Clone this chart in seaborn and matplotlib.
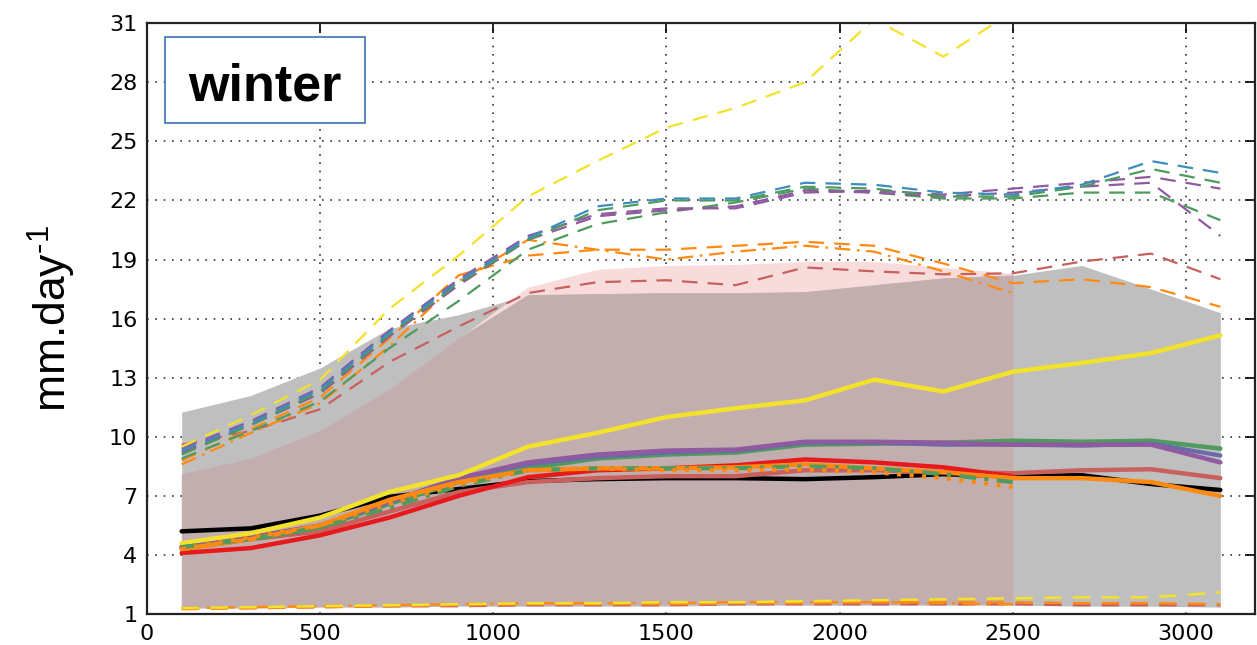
import numpy as np
import pandas as pd
import matplotlib
matplotlib.use("Agg")
import matplotlib.pyplot as plt
from matplotlib.patches import Rectangle
import seaborn as sns

# Altitude levels (x axis)
altitude = [100, 300, 500, 700, 900, 1100, 1300, 1500, 1700, 1900, 2100, 2300, 2500, 2700, 2900, 3100]
altitude_short = altitude[:13]  # series that stop at 2500

# Envelope bands
gray_upper = [11.25, 12.1, 13.5, 15.5, 16.2, 17.2, 17.25, 17.3, 17.3, 17.35, 17.7, 18.05, 18.2, 18.7, 17.5, 16.3]
gray_lower = [1.3, 1.3, 1.35, 1.35, 1.4, 1.4, 1.4, 1.4, 1.45, 1.45, 1.45, 1.45, 1.45, 1.4, 1.4, 1.35]
pink_upper = [8.1, 8.9, 10.3, 12.4, 15.0, 17.6, 18.5, 18.7, 18.75, 18.9, 18.9, 18.6, 18.3]
pink_lower = [1.35, 1.35, 1.4, 1.4, 1.45, 1.45, 1.45, 1.5, 1.5, 1.5, 1.5, 1.5, 1.5]

# Upper dashed series
yellow_hi = [9.5, 11.1, 12.9, 16.5, 19.2, 22.2, 24.0, 25.7, 26.7, 28.0, 31.2, 29.3, 31.6, 32.5, 33.5, 34.0]
blue_hi = [9.3, 10.7, 12.4, 15.3, 17.9, 20.1, 21.7, 22.1, 22.1, 22.9, 22.8, 22.4, 22.3, 22.8, 24.0, 23.4]
green_hi = [9.1, 10.6, 12.3, 15.2, 17.8, 20.0, 21.5, 22.0, 22.0, 22.7, 22.6, 22.2, 22.2, 22.7, 23.6, 22.9]
purple_hi = [9.4, 10.8, 12.5, 15.4, 18.0, 20.2, 21.3, 21.6, 21.6, 22.4, 22.5, 22.3, 22.6, 22.9, 23.2, 22.6]
green2_hi = [8.9, 10.3, 11.8, 14.5, 16.9, 19.5, 20.8, 21.4, 21.9, 22.6, 22.4, 22.1, 22.1, 22.4, 22.4, 21.0]
purple2_hi = [9.2, 10.6, 12.2, 15.1, 17.7, 20.0, 21.2, 21.5, 21.7, 22.5, 22.4, 22.2, 22.4, 22.7, 22.9, 20.2]
orange_hi = [8.8, 10.4, 12.0, 15.0, 18.2, 19.2, 19.5, 19.5, 19.7, 19.9, 19.7, 18.8, 17.8, 18.0, 17.6, 16.6]
orange_dd_hi = [8.6, 10.2, 11.7, 14.6, 17.9, 20.0, 19.5, 19.0, 19.4, 19.7, 19.4, 18.4, 17.3]
red_hi = [9.6, 10.3, 11.4, 13.8, 15.6, 17.3, 17.85, 17.95, 17.7, 18.6, 18.4, 18.25, 18.3, 18.9, 19.3, 18.0]

# Lower dashed series
yellow_lo = [1.3, 1.35, 1.4, 1.45, 1.5, 1.55, 1.55, 1.6, 1.6, 1.65, 1.7, 1.75, 1.8, 1.85, 1.85, 2.1]
orange_lo = [1.25, 1.3, 1.35, 1.4, 1.45, 1.5, 1.5, 1.5, 1.55, 1.55, 1.6, 1.6, 1.6, 1.55, 1.55, 1.5]
red_lo = [1.3, 1.3, 1.35, 1.4, 1.4, 1.45, 1.45, 1.45, 1.5, 1.5, 1.5, 1.5, 1.5, 1.45, 1.45, 1.45]
orange_dd_lo = [1.3, 1.35, 1.4, 1.45, 1.5, 1.55, 1.55, 1.55, 1.6, 1.6, 1.6, 1.55, 1.5]

# Solid (mean) series
black_mean = [5.2, 5.35, 6.0, 6.95, 7.35, 7.75, 7.85, 7.9, 7.9, 7.85, 7.95, 8.1, 8.0, 8.05, 7.6, 7.3]
indianred_mean = [4.4, 4.8, 5.2, 6.2, 7.2, 7.7, 7.9, 8.0, 8.0, 8.3, 8.3, 8.2, 8.15, 8.3, 8.35, 7.9]
red_mean = [4.1, 4.35, 5.0, 5.9, 7.0, 7.95, 8.3, 8.4, 8.55, 8.85, 8.7, 8.45, 8.0]
green_mean = [4.3, 4.8, 5.4, 6.6, 7.7, 8.4, 8.9, 9.1, 9.2, 9.6, 9.65, 9.7, 9.8, 9.75, 9.8, 9.4]
slate_mean = [4.4, 4.9, 5.5, 6.7, 7.9, 8.6, 9.0, 9.2, 9.3, 9.7, 9.7, 9.6, 9.6, 9.55, 9.65, 9.05]
purple_mean = [4.4, 4.9, 5.5, 6.7, 7.9, 8.7, 9.1, 9.3, 9.35, 9.75, 9.75, 9.7, 9.6, 9.6, 9.6, 8.7]
yellow_mean = [4.6, 5.1, 5.9, 7.2, 8.05, 9.5, 10.2, 11.0, 11.45, 11.85, 12.9, 12.3, 13.3, 13.75, 14.25, 15.15]
orange_mean = [4.3, 4.8, 5.5, 6.8, 7.7, 8.3, 8.4, 8.4, 8.45, 8.6, 8.4, 8.2, 7.9, 7.9, 7.7, 7.0]
green_dd_mean = [4.4, 4.8, 5.4, 6.4, 7.5, 8.3, 8.4, 8.4, 8.4, 8.5, 8.4, 8.1, 7.7]
orange_dot_mean = [4.3, 4.9, 5.5, 6.6, 7.6, 8.3, 8.4, 8.3, 8.3, 8.35, 8.2, 7.9, 7.45]

x_ticks = [0, 500, 1000, 1500, 2000, 2500, 3000]
y_ticks = [1, 4, 7, 10, 13, 16, 19, 22, 25, 28, 31]

C_YELLOW = "#f2e22a"
C_BLUE = "#3d8dbf"
C_GREEN = "#4f9a5e"
C_PURPLE = "#8f5a9f"
C_SLATE = "#6a6aa8"
C_ORANGE = "#ff8a12"
C_INDIANRED = "#c8605e"
C_RED = "#e8191c"

sns.set_theme(style="white")
plt.rcParams["font.family"] = ["DejaVu Sans"]
plt.rcParams["text.color"] = "black"
plt.rcParams["mathtext.fontset"] = "custom"
plt.rcParams["mathtext.rm"] = "Liberation Sans"
plt.rcParams["mathtext.it"] = "Liberation Sans"
plt.rcParams["mathtext.bf"] = "Liberation Sans:bold"

fig = plt.figure(figsize=(12.57, 6.45), dpi=100)
ax = fig.add_axes([0.117, 0.048, 0.8814, 0.916])

# Bands: gray envelope, pink envelope, and their overlap
ax.fill_between(altitude, gray_lower, gray_upper, color="#bfbfbf", lw=0, zorder=1)
ax.fill_between(altitude_short, pink_lower, pink_upper, color="#f8dcdc", lw=0, zorder=1.1)
ov_lo = np.maximum(np.array(gray_lower[:13]), np.array(pink_lower))
ov_hi = np.minimum(np.array(gray_upper[:13]), np.array(pink_upper))
ax.fill_between(altitude_short, ov_lo, ov_hi, color="#c2aeae", lw=0.6,
                edgecolor="#c2aeae", zorder=1.2)

DASH = (0, (7, 4.5))
DASHDOT = (0, (7, 3, 1.2, 3))

def draw(xs, ys, color, lw, ls, z):
    df = pd.DataFrame({"x": xs, "y": ys})
    sns.lineplot(data=df, x="x", y="y", ax=ax, color=color, linewidth=lw,
                 linestyle=ls, zorder=z, sort=False, estimator=None)

# Dashed upper and lower lines
draw(altitude, red_hi, C_INDIANRED, 1.6, DASH, 3)
draw(altitude_short, orange_dd_hi, C_ORANGE, 1.6, DASHDOT, 3)
draw(altitude, orange_hi, C_ORANGE, 1.6, DASH, 3)
draw(altitude, green2_hi, C_GREEN, 1.6, DASH, 3)
draw(altitude, purple2_hi, C_PURPLE, 1.6, DASH, 3)
draw(altitude, purple_hi, C_PURPLE, 1.6, DASH, 3)
draw(altitude, green_hi, C_GREEN, 1.6, DASH, 3)
draw(altitude, blue_hi, C_BLUE, 1.6, DASH, 3)
draw(altitude, yellow_hi, C_YELLOW, 1.6, DASH, 3)

draw(altitude, red_lo, C_INDIANRED, 1.8, DASH, 3)
draw(altitude, orange_lo, C_ORANGE, 1.8, DASH, 3)
draw(altitude_short, orange_dd_lo, C_ORANGE, 1.8, DASHDOT, 3)
draw(altitude, yellow_lo, C_YELLOW, 1.8, DASH, 3)

# Solid mean lines
draw(altitude, black_mean, "black", 3.2, "-", 4)
draw(altitude, indianred_mean, C_INDIANRED, 3.2, "-", 4)
draw(altitude_short, red_mean, C_RED, 3.2, "-", 4)
draw(altitude, green_mean, C_GREEN, 3.2, "-", 4)
draw(altitude, slate_mean, C_SLATE, 3.0, "-", 4)
draw(altitude, purple_mean, C_PURPLE, 3.2, "-", 4)
draw(altitude, yellow_mean, C_YELLOW, 3.2, "-", 4)
draw(altitude, orange_mean, C_ORANGE, 3.2, "-", 4)
draw(altitude_short, green_dd_mean, C_GREEN, 3.0, (0, (4, 2, 1, 2)), 4)
draw(altitude_short, orange_dot_mean, C_ORANGE, 3.0, (0, (1, 2)), 4)

ax.set_xlim(0, 3200)
ax.set_ylim(1, 31)
ax.set_xticks(x_ticks)
ax.set_yticks(y_ticks)
ax.set_xlabel("")
ax.set_ylabel(r"mm.day$^{\text{-1}}$", fontsize=32, family="Liberation Sans",
              color="black", labelpad=22)

ax.grid(True, color="#333333", linestyle=(0, (1, 4)), linewidth=1.2, zorder=2)
for gl in ax.get_xgridlines() + ax.get_ygridlines():
    gl.set_zorder(2)

ax.tick_params(axis="both", which="major", direction="in", length=7, width=1.2,
               top=True, right=True, labelsize=16, colors="black",
               labelcolor="black", pad=7)
for s in ax.spines.values():
    s.set_visible(True)
    s.set_color("#222222")
    s.set_linewidth(1.6)
    s.set_zorder(6)

# Season label in a framed box
ax.add_patch(Rectangle((0.0162, 0.831), 0.1805, 0.145, transform=ax.transAxes,
                       facecolor="white", edgecolor="#4a7ebb", linewidth=1.3,
                       zorder=7))
ax.text(0.1065, 0.8697, "winter", transform=ax.transAxes, fontsize=37.5,
        fontweight="bold", family="Liberation Sans", color="black",
        ha="center", va="baseline", zorder=8)

if ax.get_legend() is not None:
    ax.get_legend().remove()

fig.savefig("out.png", dpi=100)
